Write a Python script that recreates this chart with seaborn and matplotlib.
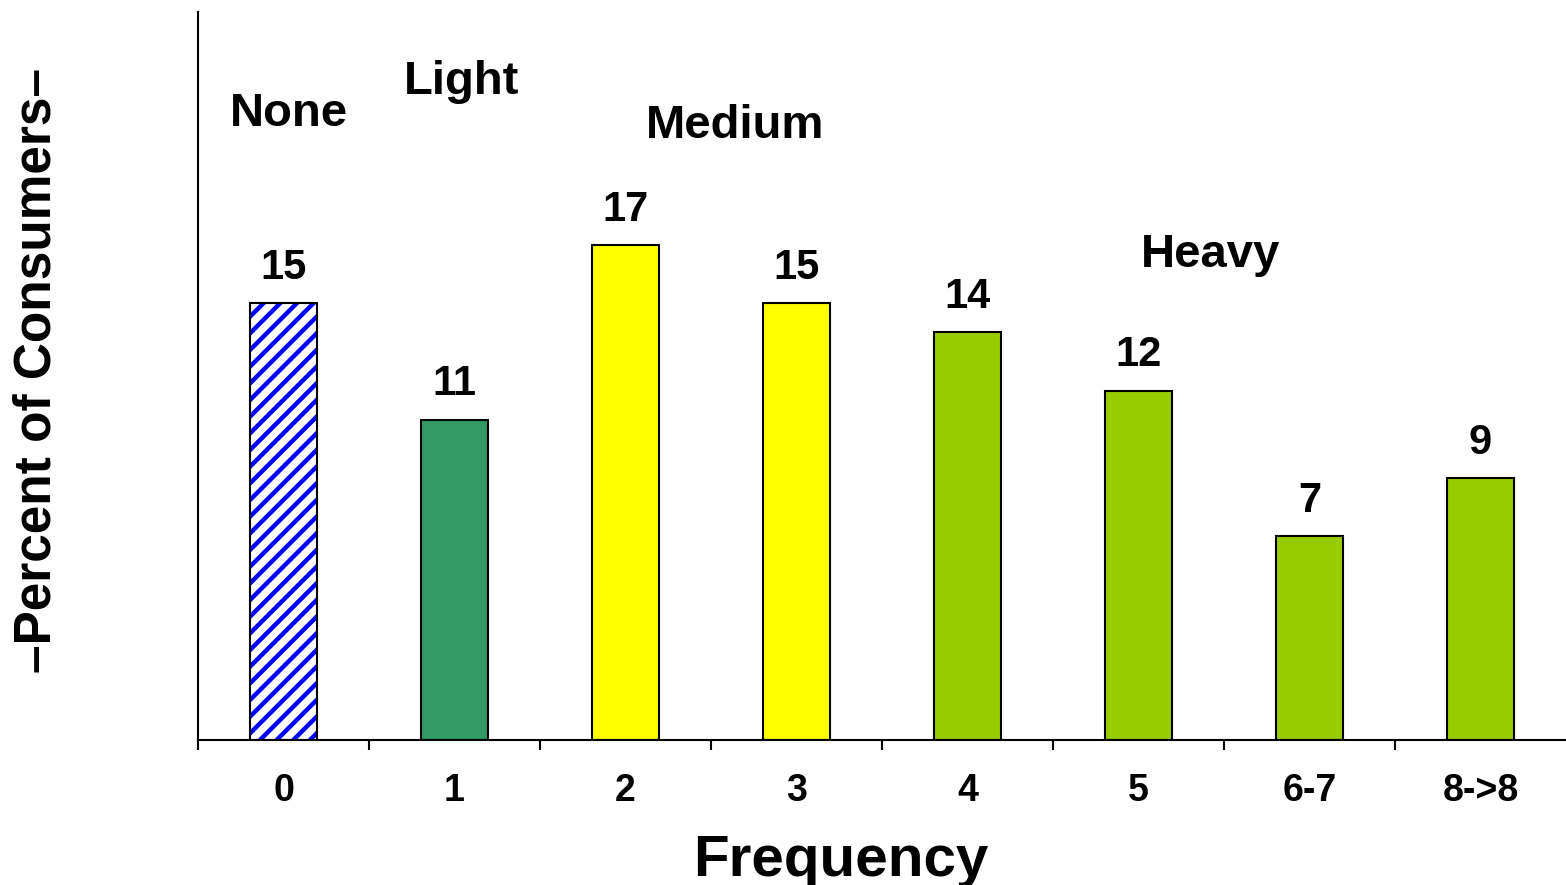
import numpy as np
import matplotlib
matplotlib.use("Agg")
import matplotlib.pyplot as plt
import seaborn as sns
from matplotlib.patches import Rectangle
from matplotlib.ticker import FixedLocator

# Chart data
categories = ['0', '1', '2', '3', '4', '5', '6-7', '8->8']
percent = [15, 11, 17, 15, 14, 12, 7, 9]
bar_colors = ['#FFFFFF', '#339966', '#FFFF00', '#FFFF00', '#99CC00', '#99CC00', '#99CC00', '#99CC00']
group_names = ['None', 'Light', 'Medium', 'Heavy']
group_x = [0.03, 1.04, 2.64, 5.42]
group_y = [21.5, 22.6, 21.1, 16.65]

sns.set_style('white')
plt.rcParams['font.family'] = ['Liberation Sans', 'DejaVu Sans']
plt.rcParams['font.weight'] = 'bold'
plt.rcParams['text.color'] = 'black'
plt.rcParams['xtick.color'] = 'black'
plt.rcParams['axes.labelcolor'] = 'black'
plt.rcParams['hatch.linewidth'] = 3.2

fig = plt.figure(figsize=(15.66, 8.85), dpi=100)
ax = fig.add_axes([198 / 1566, 145 / 885, 1368 / 1566, 728 / 885])

sns.barplot(x=categories, y=percent, hue=categories, palette=bar_colors,
            legend=False, width=0.39, edgecolor='black', linewidth=1.5,
            saturation=1, ax=ax)

# hatched "None" bar: blue diagonal stripes, black outline on top
p = ax.patches[0]
p.set_hatch('//')
p.set_edgecolor('blue')
p.set_linewidth(0)
ax.add_patch(Rectangle(p.get_xy(), p.get_width(), p.get_height(),
                       fill=False, edgecolor='black', linewidth=1.5, zorder=p.get_zorder() + 0.1))

# value labels
for bar, v in zip(ax.patches[:len(percent)], percent):
    ax.annotate(str(v), (bar.get_x() + bar.get_width() / 2, bar.get_height()),
                xytext=(0, 11), textcoords='offset points',
                ha='center', va='bottom', fontsize=30, fontweight='bold')

# group labels
for name, gx, gy in zip(group_names, group_x, group_y):
    ax.text(gx, gy, name, ha='center', va='center', fontsize=34, fontweight='bold')

ax.set_xlim(-0.5, 7.5)
ax.set_ylim(0, 25)
ax.set_yticks([])

for s in ['top', 'right']:
    ax.spines[s].set_visible(False)
for s in ['left', 'bottom']:
    ax.spines[s].set_linewidth(1.5)
    ax.spines[s].set_color('black')

ax.xaxis.set_minor_locator(FixedLocator(np.arange(-0.5, 7, 1)))
ax.tick_params(axis='x', which='major', bottom=False, length=0, pad=24, labelsize=27)
ax.tick_params(axis='x', which='minor', bottom=True, length=7, width=1.5, color='black', direction='out')
for lbl in ax.get_xticklabels():
    lbl.set_fontweight('bold')

ax.set_xlabel('Frequency', fontsize=42, fontweight='bold', va='center')
ax.xaxis.set_label_coords(0.47, -0.166)
ax.set_ylabel('\u2013Percent of Consumers\u2013', fontsize=37, fontweight='bold', va='center')
ax.yaxis.set_label_coords(-0.118, 0.507)

fig.savefig('out.png', dpi=100)
